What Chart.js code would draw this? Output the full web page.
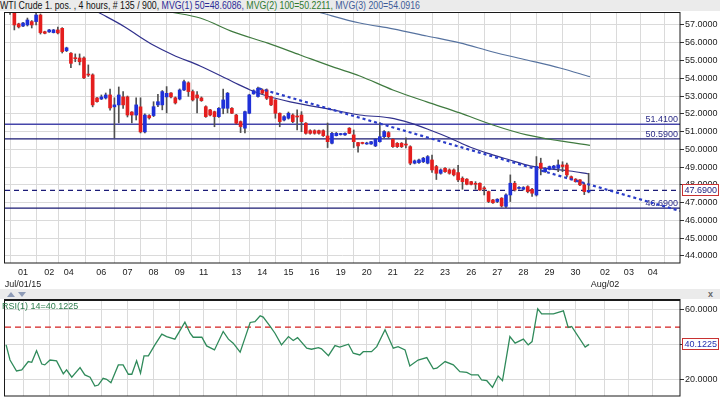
<!DOCTYPE html>
<html><head><meta charset="utf-8">
<script src="https://cdn.jsdelivr.net/npm/chart.js@4.4.1/dist/chart.umd.min.js"></script>
<style>
html,body{margin:0;padding:0;background:#fff;width:720px;height:398px;overflow:hidden;font-family:"Liberation Sans",Arial,sans-serif}
#titlebar{position:absolute;left:0;top:0;width:720px;height:11px;background:#ebebeb;z-index:2;overflow:hidden}
#titleText{position:absolute;left:0;top:0;font-size:10px;line-height:11px;white-space:nowrap;transform-origin:0 0;color:#111}
#main{position:absolute;left:0;top:0}
#strip{position:absolute;left:0;top:289px;width:720px;height:10px;background:#ebebeb}
#rsi{position:absolute;left:0;top:298px}
#rsiTitle{position:absolute;left:2px;top:302px;font-size:9px;line-height:9px;color:#2e7d4e;white-space:nowrap;z-index:2}
.tri{position:absolute;width:0;height:0}
#up{left:7px;top:292px;border-left:4px solid transparent;border-right:4px solid transparent;border-bottom:5px solid #8e9bb6}
#dn{left:18px;top:292px;border-left:4px solid transparent;border-right:4px solid transparent;border-top:5px solid #8e9bb6}
#close{position:absolute;left:708px;top:289px;font-size:9px;font-weight:bold;color:#666;line-height:10px}
</style></head>
<body>
<div id="titlebar"><div id="titleText"><span>WTI Crude 1. pos. , 4 hours, # 135 / 900, </span><span style="color:#2a2a96">MVG(1) 50=48.6086, </span><span style="color:#2f7a2f">MVG(2) 100=50.2211, </span><span style="color:#3d5c98">MVG(3) 200=54.0916</span></div></div>
<canvas id="main" width="720" height="289"></canvas>
<div id="strip"></div>
<div class="tri" id="up"></div><div class="tri" id="dn"></div>
<div id="close">x</div>
<canvas id="rsi" width="720" height="100"></canvas>
<div id="rsiTitle">RSI(1) 14=40.1225</div>
<script>
// ---------- DATA ----------
const opens  = [58.0,57.68,57.06,56.94,57.0,57.19,57.19,57.56,56.62,56.61,56.57,56.72,56.81,55.55,55.41,55.15,55.14,55.14,54.2,54.19,
52.89,52.83,52.89,53.06,52.39,52.5,52.95,52.95,52.1,51.93,52.39,50.98,51.9,51.9,52.5,52.5,52.95,53.17,52.9,52.83,
53.34,53.74,53.25,53.06,52.89,52.4,52.22,52.12,51.84,52.31,52.31,52.31,51.93,51.56,51.19,52.03,53.12,52.97,53.34,53.34,
52.97,52.78,52.03,51.65,51.75,51.93,51.84,51.93,51.47,51.05,51.05,51.05,51.05,50.75,50.34,50.77,50.83,50.81,51.19,50.81,
50.38,50.35,50.3,50.3,50.19,50.43,50.71,50.94,50.57,50.34,50.34,50.27,50.15,49.22,49.25,49.3,49.22,49.4,49.03,48.65,
48.93,48.84,48.84,48.69,48.37,48.32,48.18,48.06,48.09,47.8,47.62,47.15,47.06,47.25,46.79,47.43,48.09,47.8,47.75,47.9,
47.75,47.43,49.22,48.74,48.87,48.93,48.93,49.12,49.12,48.46,48.32,48.28,48.0,47.6];
const highs  = [58.2,57.75,57.1,57.15,57.39,57.25,57.73,57.62,56.65,56.75,56.75,56.88,56.85,55.75,55.45,55.37,55.37,55.2,54.75,54.25,
52.92,53.06,53.17,53.39,52.9,53.51,53.25,53.0,52.12,52.9,52.9,52.0,51.95,52.68,53.1,53.31,53.53,53.2,52.95,53.4,
53.9,53.8,53.34,53.25,52.95,52.45,52.25,52.15,52.35,53.39,53.2,52.35,51.97,51.6,52.15,53.1,53.35,53.5,53.4,53.4,
53.0,52.8,52.05,51.9,52.1,52.0,52.22,52.12,51.5,51.1,51.1,51.08,51.1,51.48,50.95,50.95,50.9,50.93,51.22,51.09,
50.4,50.4,50.4,50.45,50.6,51.5,51.05,51.0,50.6,50.38,50.38,50.64,50.2,49.4,49.45,49.55,49.65,49.68,49.1,48.9,
48.97,48.9,48.9,49.1,48.45,48.35,48.2,48.18,48.12,47.9,47.65,47.18,47.22,47.28,47.5,48.56,48.2,47.9,47.9,47.95,
47.8,49.59,49.5,48.97,49.06,49.1,49.4,49.3,49.22,48.5,48.35,48.3,48.1,48.65];
const lows   = [57.6,56.72,56.83,56.9,56.94,56.83,57.0,56.49,56.5,56.58,56.55,56.49,55.42,55.5,54.6,54.93,54.75,53.97,54.1,52.39,
52.65,52.8,52.83,52.2,50.64,51.49,52.3,51.82,51.49,51.65,50.92,50.92,51.7,51.84,52.4,52.22,52.05,52.9,52.55,52.78,
53.3,52.98,52.72,52.05,52.7,51.8,51.88,51.27,51.8,52.0,52.05,52.0,51.42,50.94,50.92,52.0,53.1,52.93,53.1,52.8,
52.45,51.75,51.27,51.6,51.7,51.5,51.09,50.99,50.85,50.85,50.85,50.85,50.72,50.1,50.3,50.75,50.8,50.78,50.88,50.1,
49.84,50.3,50.28,50.28,50.15,50.4,50.65,50.65,50.1,50.1,50.1,50.08,49.13,49.18,49.2,49.25,49.18,48.7,48.3,48.6,
48.7,48.6,48.5,48.18,47.75,48.0,48.0,47.75,47.68,47.43,47.0,46.95,47.0,46.75,46.72,47.06,47.65,47.75,47.7,47.55,
47.35,47.37,48.56,48.7,48.84,48.9,48.74,48.74,48.46,48.28,48.15,47.95,47.45,47.55];
const closes = [57.85,57.0,56.89,57.11,57.28,57.0,57.56,56.57,56.53,56.72,56.72,56.55,55.5,55.71,54.84,55.1,54.93,54.02,54.18,52.5,
52.68,52.95,53.06,52.33,52.5,53.06,52.5,51.93,51.93,52.5,50.98,51.93,51.77,52.4,52.68,53.25,53.15,52.95,52.61,53.34,
53.81,53.25,52.78,52.89,52.74,51.84,51.93,51.84,52.31,52.78,53.16,52.03,51.47,51.28,52.12,53.06,53.3,53.44,53.16,52.87,
52.5,52.03,51.56,51.84,52.03,51.56,51.82,51.56,50.9,50.9,50.9,50.9,50.77,50.43,50.9,50.9,50.87,50.9,50.9,50.43,
50.19,50.33,50.35,50.43,50.57,50.71,51.0,50.71,50.15,50.15,50.15,50.24,49.22,49.35,49.4,49.5,49.59,48.84,48.65,48.84,
48.74,48.65,48.56,48.28,48.18,48.03,48.03,48.03,47.71,47.77,47.06,46.99,47.19,46.81,47.43,48.09,47.71,47.85,47.85,47.62,
47.53,49.03,48.93,48.93,49.03,49.06,49.12,49.03,48.56,48.32,48.18,48.0,47.62,47.69];

// moving averages: bar position / value
const ma50X  = [21.2,27.4,30.9,33.9,38.5,44.7,52.3,56.2,60.1,65.4,75.2,81.4,88.3,92.9,97.5,102.1,106.7,111.3,115.9,120.5,125.1,129.7,134];
const ma50Y  = [57.73,56.89,56.32,55.87,55.31,54.69,53.79,53.34,53.0,52.67,52.22,51.93,51.77,51.49,51.09,50.64,50.13,49.74,49.40,49.07,48.90,48.78,48.61];
const ma100X = [37.8,44.7,52.3,60.1,67.7,75.2,81.4,89.0,96.8,104.4,112.0,119.8,127.4,134.3];
const ma100Y = [57.73,57.39,56.61,55.99,55.31,54.64,54.13,53.34,52.67,52.05,51.37,50.81,50.47,50.22];
const ma200X = [71.8,81.4,89.0,96.8,104.4,112.0,119.8,127.4,134.3];
const ma200Y = [57.73,57.11,56.78,56.38,55.99,55.48,55.03,54.58,54.09];

const trendX = [58.2,155];
const trendY = [53.43,46.53];

const levelValues = [51.41,50.59,46.69];
const levelLabels = ["51.4100","50.5900","46.6900"];
const lastPrice = 47.69;
const lastPriceLabel = "47.6900";

const tickPos    = [4,10,14.5,22,28,34,40,45.5,53,59,65,71,77,83,89,95,101,107,113,119,125,131,137.75,143.25,148.75];
const tickLabels = ["01","02","04","06","07","08","09","11","13","14","15","16","19","20","21","22","23","26","27","28","29","30","02","03","04"];
const monthLabels = ["Jul/01/15","","","","","","","","","","","","","","","","","","","","","","Aug/02","",""];
const priceTicks = [44,45,46,47,48,49,50,51,52,53,54,55,56,57];

const rsiX = [0.1,1,2.5,3.7,5.2,6.0,7.1,8.3,9.0,10.2,11.7,13.25,14.0,15.2,17.1,18.2,19.4,20.5,21.3,22.4,23.2,24.2,25.9,27.0,28.2,29.0,30.1,31.0,31.8,32.8,
34.3,35.9,37.0,38.9,41.2,42.4,43.1,45.1,46.2,48.0,50.0,51.2,52.3,53.9,55.0,56.2,57.3,58.5,59.2,60.8,61.9,63.4,65.0,66.1,67.1,69.2,70.3,71.9,72.6,74.2,
75.7,76.8,78.8,79.9,81.4,82.2,84.1,85.3,87.2,89.1,90.2,91.8,92.9,94.8,96.8,98.3,99.1,101.0,102.9,104.4,106.0,107.1,108.6,109.4,110.6,111.9,113.2,114.2,115.9,117.1,
119.0,120.1,121.0,122.3,123.2,125.9,128.2,129.3,130.1,133.2,134.1];
const rsiY = [39.8,31.1,24.8,25.4,30.2,29.8,36.5,28.8,28.3,31.1,30.6,23.1,25.4,21.2,26.7,22.5,21.2,16.1,16.7,20.6,20.0,18.0,28.3,28.3,22.9,22.9,30.6,23.5,33.5,33.5,
39.8,46.0,44.6,43.1,52.9,46.5,44.2,44.2,39.2,36.9,47.5,43.1,40.8,35.6,43.7,52.7,53.2,56.5,55.8,50.4,46.5,39.8,44.6,42.3,44.0,37.9,37.3,38.2,37.5,33.6,
39.4,38.5,40.2,35.0,34.0,35.9,35.9,38.8,48.5,37.9,38.8,36.9,27.7,31.1,32.5,26.0,26.4,30.2,28.3,24.4,24.0,22.5,22.5,19.6,19.2,15.4,21.9,19.2,44.6,40.8,
43.1,39.8,41.7,60.6,57.7,57.7,59.4,49.8,50.4,38.5,40.1];
const rsiTicks = [20,40,60];
const rsiLevel = 50;
const lastRsiLabel = "40.1225";

// ---------- STYLE ----------
const FONT = '"Liberation Sans", Arial, sans-serif';
const RED = '#e41e1e', BLUE = '#1f30d8', WICK = '#505050';
const X_MIN = -0.15, X_MAX = 155;
const GRID = '#dadada';

const pts = (xs, ys) => xs.map((x, k) => ({x, y: ys[k]}));
const wickData = opens.map((o, k) => ({x: k + 1, y: [lows[k], highs[k]]}));
const bodyData = opens.map((o, k) => ({x: k + 1, y: [Math.min(o, closes[k]), Math.max(o, closes[k])]}));
const bodyColors = opens.map((o, k) => closes[k] >= o ? BLUE : RED);

const frame = (topW) => ({
  id: 'frame',
  afterDraw(chart) {
    const a = chart.chartArea, ctx = chart.ctx;
    ctx.save();
    ctx.strokeStyle = '#1a1a1a'; ctx.lineWidth = 1;
    ctx.strokeRect(a.left - 0.5, a.top + 0.5, a.right - a.left + 0.5, a.bottom - a.top - 0.5);
    if (topW > 1) { ctx.fillStyle = '#1a1a1a'; ctx.fillRect(a.left - 1, a.top, a.right - a.left + 1, topW); }
    ctx.restore();
  }
});

const valueBox = (scaleId, value, label, textColor) => ({
  id: 'box' + scaleId,
  afterDraw(chart) {
    const s = chart.scales[scaleId], ctx = chart.ctx, a = chart.chartArea;
    const y = Math.round(s.getPixelForValue(value));
    ctx.save();
    ctx.fillStyle = '#fff'; ctx.fillRect(a.right + 2, y - 5, 37, 10);
    ctx.strokeStyle = '#c83232'; ctx.lineWidth = 1; ctx.strokeRect(a.right + 2.5, y - 5.5, 36, 11);
    ctx.fillStyle = textColor; ctx.font = '9px ' + FONT; ctx.textBaseline = 'middle'; ctx.textAlign = 'left';
    ctx.fillText(label, a.right + 4.5, y + 0.5);
    ctx.restore();
  }
});

const levelText = {
  id: 'levelText',
  beforeDatasetsDraw(chart) {
    const s = chart.scales.y, ctx = chart.ctx, a = chart.chartArea;
    ctx.save();
    ctx.font = '9px ' + FONT; ctx.fillStyle = '#2b2b86'; ctx.textAlign = 'right'; ctx.textBaseline = 'alphabetic';
    levelValues.forEach((v, k) => ctx.fillText(levelLabels[k], a.right - 2, s.getPixelForValue(v) - 2));
    ctx.restore();
  }
};

const hline = (v, color, width, dash, order) => ({
  type: 'line', data: [{x: X_MIN, y: v}, {x: X_MAX, y: v}], borderColor: color, borderWidth: width,
  borderDash: dash, pointRadius: 0, order
});
const lineDs = (xs, ys, color, width, order) => ({
  type: 'line', data: pts(xs, ys), borderColor: color, borderWidth: width, pointRadius: 0,
  cubicInterpolationMode: 'monotone', order
});

new Chart(document.getElementById('main'), {
  type: 'bar',
  data: { datasets: [
    {type: 'line', data: pts(trendX, trendY), borderColor: '#2a3cc8', borderWidth: 2.2, borderDash: [3, 3], pointRadius: 0, order: 0},
    {type: 'bar', data: bodyData, backgroundColor: bodyColors, barThickness: 3, grouped: false, minBarLength: 1, order: 1},
    {type: 'bar', data: wickData, backgroundColor: WICK, barThickness: 1, grouped: false, order: 2},
    lineDs(ma50X, ma50Y, '#30308c', 1.2, 3),
    lineDs(ma100X, ma100Y, '#3f7a3f', 1.2, 4),
    lineDs(ma200X, ma200Y, '#56729f', 1.2, 5),
    hline(levelValues[0], '#4646aa', 1.3, [], 6),
    hline(levelValues[1], '#1a1a72', 1.3, [], 7),
    hline(lastPrice, '#1c1c78', 1.2, [5, 4], 8),
    hline(levelValues[2], '#1a1a72', 1.3, [], 9)
  ]},
  options: {
    responsive: false, animation: false, events: [],
    layout: {padding: {left: 5, right: 0, top: 12, bottom: 0}},
    plugins: {legend: {display: false}, tooltip: {enabled: false}},
    scales: {
      x: {
        type: 'linear', min: X_MIN, max: X_MAX, offset: false,
        afterBuildTicks: s => { s.ticks = tickPos.map(v => ({value: v})); },
        afterFit: s => { s.height = 26; },
        grid: {color: GRID, drawTicks: false, lineWidth: 1},
        border: {display: false},
        ticks: {autoSkip: false, maxRotation: 0, padding: 3, color: '#222',
          font: {family: FONT, size: 9, lineHeight: 1.4},
          callback: (v, i) => monthLabels[i] ? [tickLabels[i], monthLabels[i]] : tickLabels[i]}
      },
      y: {
        position: 'right', min: 43.6, max: 57.73,
        afterBuildTicks: s => { s.ticks = priceTicks.map(v => ({value: v})); },
        afterFit: s => { s.width = 40; },
        grid: {color: GRID, tickLength: 4, tickColor: '#333', lineWidth: 1},
        border: {display: false},
        ticks: {padding: 1, color: '#222', font: {family: FONT, size: 9}, callback: v => Number(v).toFixed(4)}
      }
    }
  },
  plugins: [levelText, frame(1), valueBox('y', lastPrice, lastPriceLabel, '#1c1c7a')]
});

new Chart(document.getElementById('rsi'), {
  type: 'line',
  data: { datasets: [
    {data: pts(rsiX, rsiY), borderColor: '#2f8a5a', borderWidth: 1.3, pointRadius: 0, tension: 0, order: 0},
    {data: [{x: X_MIN, y: rsiLevel}, {x: X_MAX, y: rsiLevel}], borderColor: '#d42020', borderWidth: 1.2, borderDash: [6, 4], pointRadius: 0, order: 1}
  ]},
  options: {
    responsive: false, animation: false, events: [],
    layout: {padding: {left: 5, right: 0, top: 1, bottom: 2}},
    plugins: {legend: {display: false}, tooltip: {enabled: false}},
    scales: {
      x: {
        type: 'linear', min: X_MIN, max: X_MAX, offset: false,
        afterBuildTicks: s => { s.ticks = tickPos.map(v => ({value: v})); },
        afterFit: s => { s.height = 0; },
        grid: {color: GRID, drawTicks: false},
        border: {display: false},
        ticks: {display: false}
      },
      y: {
        position: 'right', min: 10.4, max: 66.2,
        afterBuildTicks: s => { s.ticks = rsiTicks.map(v => ({value: v})); },
        afterFit: s => { s.width = 40; s.paddingTop = 0; s.paddingBottom = 0; },
        grid: {color: GRID, tickLength: 4, tickColor: '#333'},
        border: {display: false},
        ticks: {padding: 1, color: '#222', font: {family: FONT, size: 9}, callback: v => Number(v).toFixed(4)}
      }
    }
  },
  plugins: [frame(2), valueBox('y', 40.1225, lastRsiLabel, '#2430b0')]
});

// fit title text to its width in the reference
const tt = document.getElementById('titleText');
const w = tt.getBoundingClientRect().width;
tt.style.transform = 'scaleX(' + (420 / w) + ')';
</script>
</body></html>
